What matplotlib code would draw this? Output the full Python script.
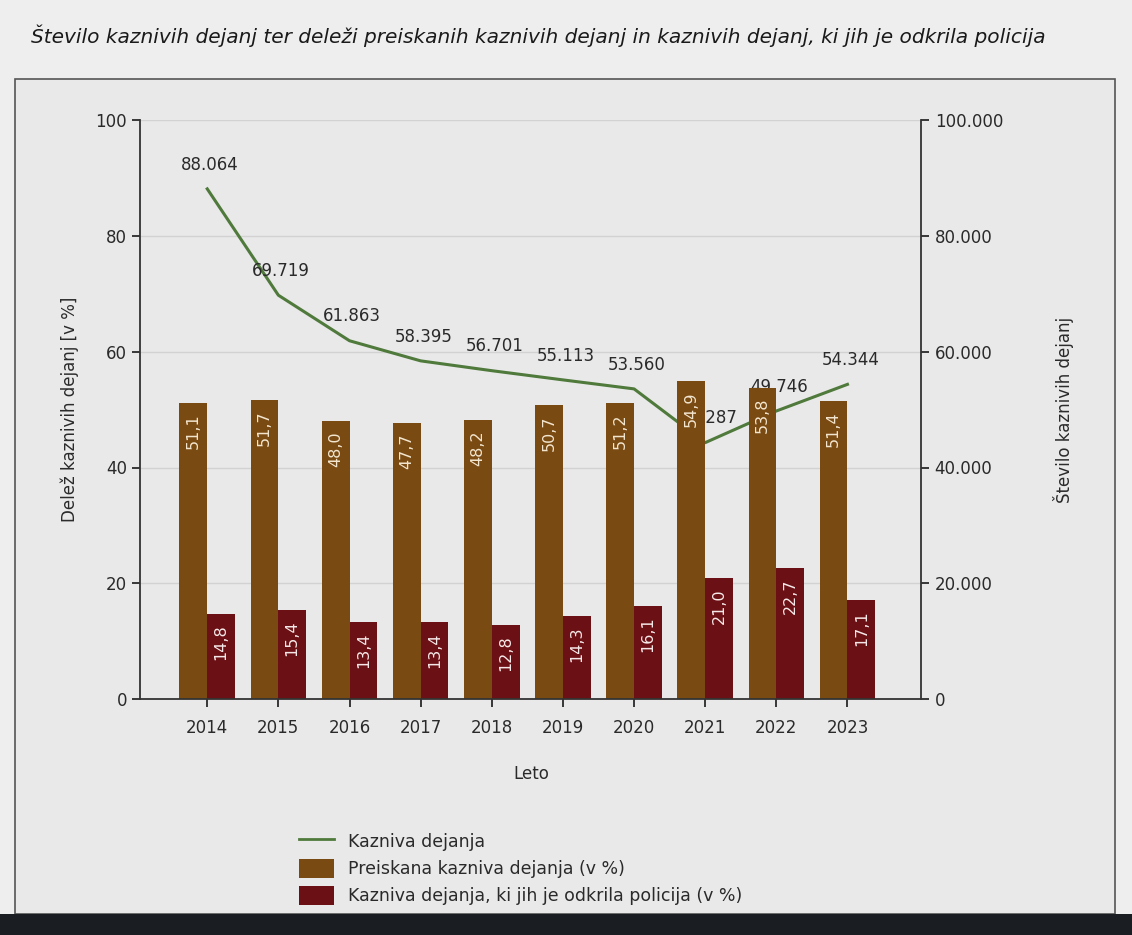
import matplotlib
matplotlib.use("Agg")
import matplotlib.pyplot as plt
from matplotlib.patches import Rectangle, Patch
from matplotlib.lines import Line2D
from matplotlib.ticker import FuncFormatter
import numpy as np

years = ["2014", "2015", "2016", "2017", "2018", "2019", "2020", "2021", "2022", "2023"]
preiskana = [51.1, 51.7, 48.0, 47.7, 48.2, 50.7, 51.2, 54.9, 53.8, 51.4]
policija = [14.8, 15.4, 13.4, 13.4, 12.8, 14.3, 16.1, 21.0, 22.7, 17.1]
kazniva = [88064, 69719, 61863, 58395, 56701, 55113, 53560, 44287, 49746, 54344]

title = "Število kaznivih dejanj ter deleži preiskanih kaznivih dejanj in kaznivih dejanj, ki jih je odkrila policija"
left_label = "Delež kaznivih dejanj [v %]"
right_label = "Število kaznivih dejanj"
x_label = "Leto"
legend_labels = ["Kazniva dejanja", "Preiskana kazniva dejanja (v %)",
                 "Kazniva dejanja, ki jih je odkrila policija (v %)"]

c_brown = "#7a4a13"
c_red = "#6b1014"
c_green = "#4f7a3c"
c_text = "#2a2a2a"

plt.rcParams['font.family'] = ['DejaVu Sans']

fig = plt.figure(figsize=(11.32, 9.35), dpi=100, facecolor="#eeeeee")

# frame and dark bottom band
fig.patches.append(Rectangle((0.013, 0.022), 0.972, 0.893, transform=fig.transFigure,
                             facecolor="#e9e9e9", edgecolor="#555555", lw=1.2, zorder=-10))
fig.patches.append(Rectangle((0, 0), 1, 0.022, transform=fig.transFigure,
                             facecolor="#1a1d22", edgecolor="none", zorder=-9))

fig.text(0.027, 0.962, title, fontsize=14.5, style="italic", color="#1a1a1a",
         ha="left", va="center")

ax = fig.add_axes([0.124, 0.252, 0.690, 0.620])
x = np.arange(len(years))

# line axis (drawn beneath the bars, as in the original)
ax2 = ax.twinx()

ax.set_zorder(2)
ax.patch.set_visible(False)
ax2.set_zorder(1)
ax2.patch.set_facecolor("#e9e9e9")

w = 0.39
b1 = ax.bar(x - w / 2, preiskana, width=w, color=c_brown, zorder=2)
b2 = ax.bar(x + w / 2, policija, width=w, color=c_red, zorder=2)

for rect, v in zip(b1, preiskana):
    ax.text(rect.get_x() + rect.get_width() / 2, v - 1.8, f"{v:.1f}".replace(".", ","),
            rotation=90, ha="center", va="top", color="#f3e6cf", fontsize=11.5, zorder=3)
for rect, v in zip(b2, policija):
    ax.text(rect.get_x() + rect.get_width() / 2, v - 1.8, f"{v:.1f}".replace(".", ","),
            rotation=90, ha="center", va="top", color="#f6e9e9", fontsize=11.5, zorder=3)

ax.set_xlim(-0.94, 10.04)
ax.set_ylim(0, 100)
ax.set_yticks([0, 20, 40, 60, 80, 100])
ax.set_xticks(x)
ax.set_xticklabels(years)
for s in ["top", "right"]:
    ax.spines[s].set_visible(False)
for s in ["left", "bottom"]:
    ax.spines[s].set_color("#333333")
    ax.spines[s].set_linewidth(1.3)
ax.tick_params(axis="both", labelsize=12, colors=c_text, length=6, width=1.3)
ax.tick_params(axis="x", pad=8)
ax.set_xlabel(x_label, fontsize=12, color=c_text, labelpad=20)
ax.set_ylabel(left_label, fontsize=12, color=c_text, labelpad=12)

ax2.set_ylim(0, 100000)
ax2.set_yticks([0, 20000, 40000, 60000, 80000, 100000])
ax2.yaxis.set_major_formatter(FuncFormatter(lambda v, p: f"{int(v):,}".replace(",", ".")))
ax2.yaxis.grid(True, color="#d2d2d2", lw=1.0, zorder=0)
ax2.set_axisbelow(True)
ax2.plot(x, kazniva, color=c_green, lw=2.2, zorder=4)
for xi, v in zip(x, kazniva):
    ax2.annotate(f"{v:,}".replace(",", "."), (xi, v), xytext=(2, 11),
                 textcoords="offset points", ha="center", va="bottom",
                 fontsize=12, color=c_text, zorder=5)
for s in ["top", "left", "bottom"]:
    ax2.spines[s].set_visible(False)
ax2.spines["right"].set_color("#333333")
ax2.spines["right"].set_linewidth(1.3)
ax2.tick_params(axis="y", labelsize=12, colors=c_text, length=6, width=1.3)
ax2.set_ylabel(right_label, fontsize=12, color=c_text, rotation=90, labelpad=36)

handles = [Line2D([0], [0], color=c_green, lw=2),
           Patch(facecolor=c_brown), Patch(facecolor=c_red)]
leg = fig.legend(handles, legend_labels, loc="upper left", bbox_to_anchor=(0.258, 0.118),
                 frameon=False, fontsize=12.5, handlelength=2.0, handleheight=1.3,
                 labelspacing=0.45, borderaxespad=0)
for t in leg.get_texts():
    t.set_color(c_text)

fig.savefig("out.png", dpi=100, facecolor=fig.get_facecolor())
